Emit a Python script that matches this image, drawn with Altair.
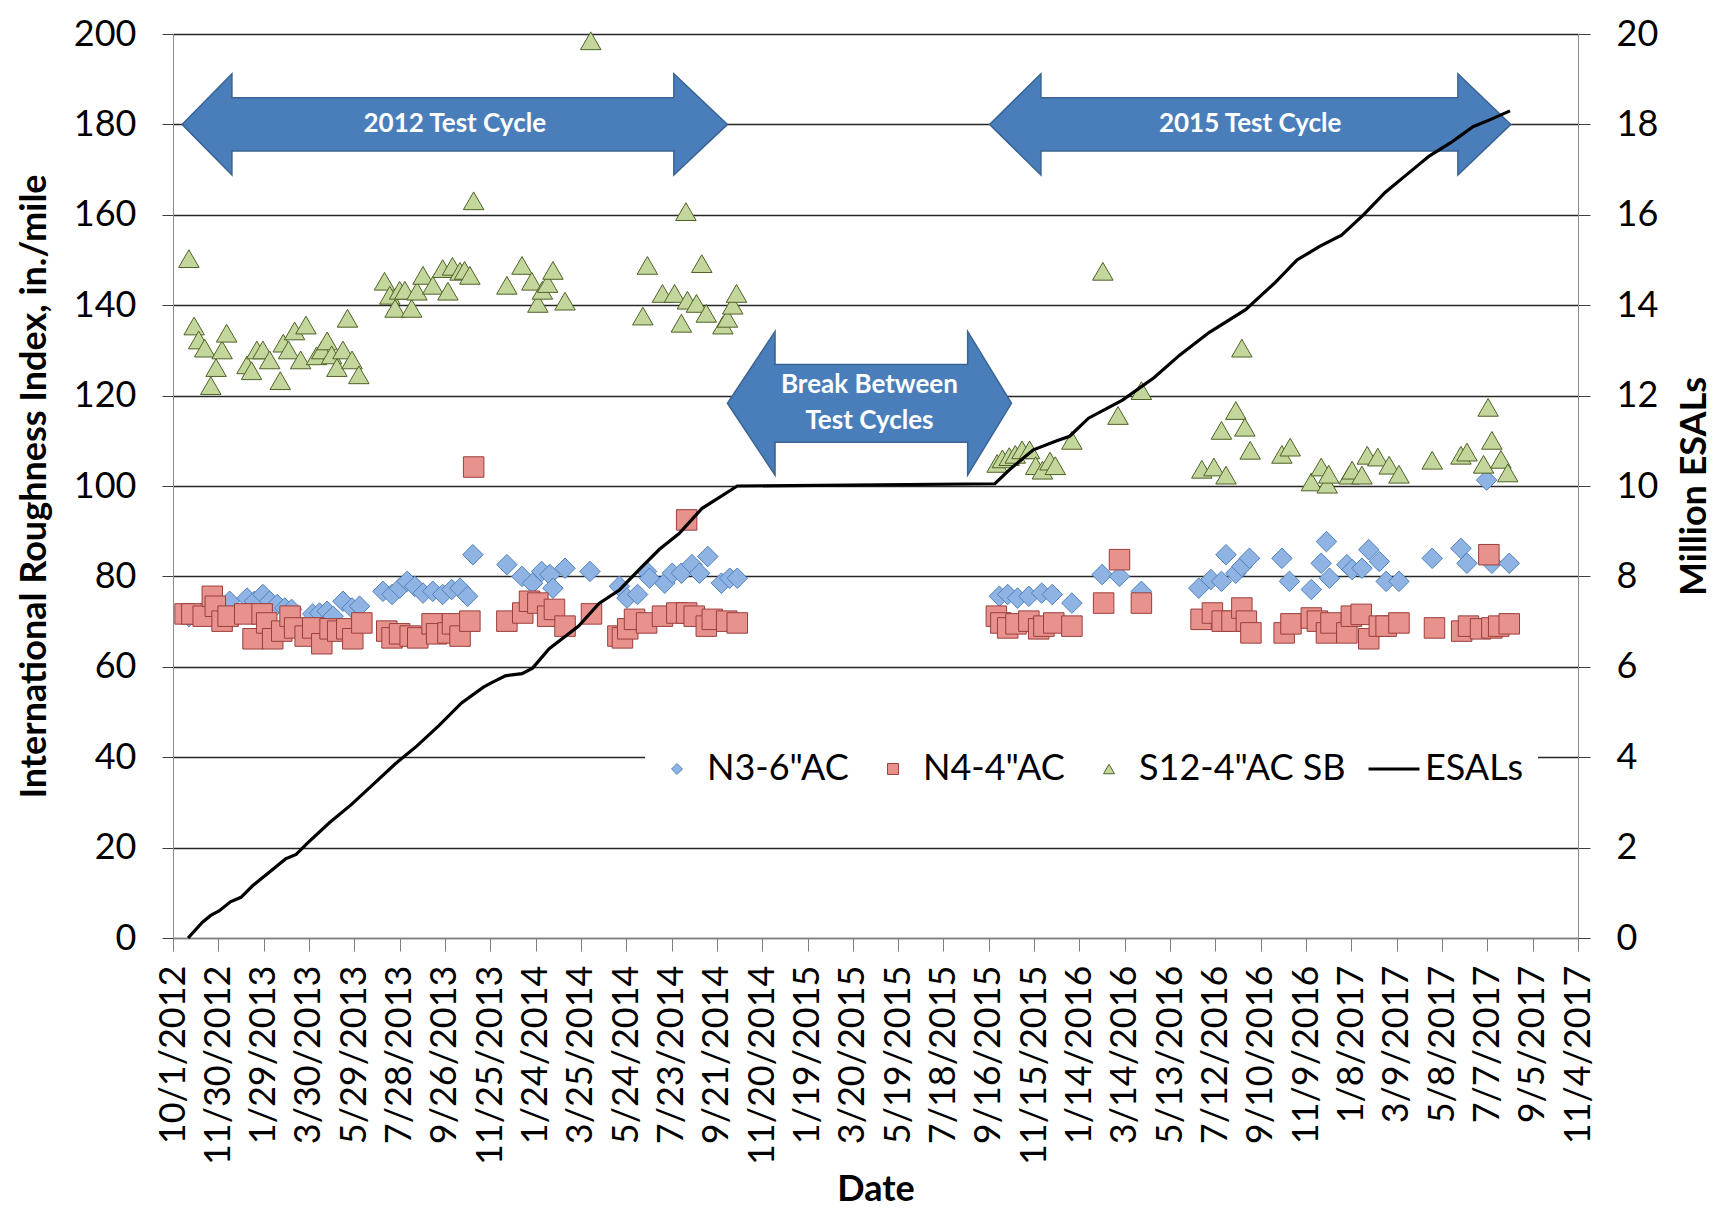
import altair as alt
import pandas as pd

BASE_DATE = "2012-10-01"

# ---- data (x = days after 10/1/2012) ----
n3_day = [21, 75, 98, 108, 119, 128, 138, 148, 157, 185, 194, 204, 212, 225, 237, 247,
          278, 290, 300, 310, 320, 331, 344, 357, 369, 380, 390, 397,
          442, 462, 476, 488, 499, 503, 519, 552, 591, 601, 615, 627, 631, 651, 661,
          673, 687, 697, 708, 726, 737, 747,
          1094, 1105, 1118, 1133, 1150, 1164, 1190, 1230, 1253, 1282,
          1358, 1374, 1388, 1394, 1407, 1415, 1425, 1468, 1478, 1507, 1520, 1527,
          1531, 1554, 1561, 1574, 1583, 1597, 1606, 1623, 1667, 1705, 1713, 1739,
          1746, 1769]
n3_iri = [71.1, 74.5, 75.2, 74.5, 76.0, 74.5, 73.8, 73.0, 72.7, 71.7, 71.9, 72.3, 71.2, 74.5, 73.0, 73.4,
          76.7, 76.0, 77.4, 78.9, 77.8, 76.3, 76.7, 76.0, 77.1, 77.4, 75.6, 84.8,
          82.6, 80.0, 78.5, 81.1, 80.4, 77.4, 81.8, 81.1, 77.8, 75.2, 76.0, 81.1, 79.6, 78.5, 80.7,
          80.7, 82.6, 80.7, 84.4, 78.5, 79.6, 79.6,
          75.6, 76.0, 75.2, 75.6, 76.3, 76.0, 74.1, 80.4, 80.0, 76.7,
          77.4, 79.3, 78.9, 84.8, 80.7, 82.2, 84.0, 84.0, 78.9, 77.1, 82.9, 87.7,
          79.6, 82.6, 81.5, 81.8, 85.9, 83.3, 78.9, 78.9, 84.0, 86.2, 82.9, 101.3,
          82.9, 82.9]

n4_day = [16, 25, 40, 52, 56, 65, 73, 95, 106, 118, 124, 132, 144, 155, 161, 175, 185, 197,
          208, 218, 230, 238, 250, 283, 290, 300, 314, 324, 343, 349, 364, 370, 380, 393, 398,
          442, 463, 472, 483, 496, 505, 519, 554, 589, 595, 602, 611, 627, 648, 667, 680, 680,
          690, 706, 714, 733, 747,
          1090, 1096, 1105, 1116, 1133, 1146, 1153, 1166, 1190, 1232, 1253, 1282,
          1361, 1376, 1389, 1402, 1415, 1421, 1427, 1471, 1480, 1507, 1515, 1527, 1533,
          1554, 1560, 1573, 1583, 1597, 1606, 1623, 1670, 1706, 1715, 1731, 1742, 1746,
          1755, 1769]
n4_iri = [71.7, 71.7, 71.2, 75.6, 73.4, 70.1, 71.2, 71.7, 66.2, 71.7, 69.7, 66.2, 67.9, 71.2, 68.6, 66.8, 68.6, 65.1,
          68.4, 67.9, 68.4, 66.2, 69.7, 67.9, 66.4, 67.3, 66.8, 66.4, 69.5, 67.3, 67.5, 69.5, 66.8, 70.1, 104.2,
          70.1, 71.9, 74.5, 74.1, 71.2, 72.7, 69.0, 71.7, 66.8, 66.4, 68.4, 70.5, 69.7, 71.2, 71.9, 71.9, 92.5,
          71.2, 69.0, 70.5, 70.1, 69.7,
          71.2, 69.7, 68.6, 69.5, 70.1, 68.4, 69.0, 69.7, 69.0, 74.1, 83.7, 74.1,
          70.5, 71.9, 70.1, 70.1, 73.0, 70.1, 67.5, 67.5, 69.5, 70.8, 70.1, 67.5, 69.7,
          67.5, 71.2, 71.6, 66.2, 69.0, 69.0, 69.7, 68.6, 67.9, 69.0, 68.4, 84.8, 68.6,
          69.0, 69.5]

s12_day = [21, 28, 34, 42, 50, 57, 65, 71, 98, 104, 111, 119, 128, 142, 146, 153, 161, 169, 176,
           190, 197, 204, 210, 217, 225, 231, 237, 246,
           280, 287, 294, 300, 307, 316, 323, 331, 344, 357, 364, 370, 380, 386, 393, 398,
           442, 462, 475, 483, 489, 496, 503, 519, 553,
           622, 628, 648, 664, 673, 679, 681, 693, 700, 706, 728, 734, 741, 746,
           1091, 1098, 1107, 1115, 1124, 1134, 1142, 1151, 1161, 1168, 1190, 1231, 1251, 1282,
           1362, 1378, 1388, 1394, 1407, 1415, 1419, 1426, 1468, 1479, 1507, 1520, 1528, 1530,
           1557, 1561, 1574, 1581, 1595, 1610, 1623, 1667, 1705, 1713, 1735, 1741, 1746,
           1758, 1767]
s12_iri = [150.3, 135.4, 132.3, 130.5, 122.2, 126.2, 130.1, 133.8, 126.8, 125.5, 130.1, 130.1, 127.9,
           123.3, 131.6, 130.1, 134.3, 127.9, 135.6,
           128.8, 130.1, 132.1, 129.0, 126.2, 130.1, 137.1, 127.9, 124.6,
           145.3, 142.2, 139.3, 143.3, 143.3, 139.3, 143.1, 146.6, 144.4, 148.1, 143.1, 148.6, 147.5,
           147.7, 146.6, 163.1,
           144.4, 148.8, 145.3, 140.4, 143.3, 144.8, 147.7, 140.9, 198.5,
           137.6, 148.8, 142.6, 142.6, 136.0, 160.7, 141.1, 140.4, 149.2, 138.2, 135.6, 137.1, 140.0, 142.6,
           105.0, 106.0, 106.5, 107.0, 108.0, 108.0, 104.5, 103.5, 105.5, 104.5, 110.1, 147.5, 115.6, 121.1,
           103.7, 104.2, 112.3, 102.4, 116.7, 130.5, 113.0, 107.9, 107.0, 108.6, 100.9, 104.2, 100.4, 102.6,
           102.4, 103.5, 102.4, 106.8, 106.4, 104.6, 102.6, 105.7, 106.8, 107.5, 104.8, 117.4, 110.1,
           105.9, 102.9]

esal_day = [20, 39, 50, 61, 76, 90, 105, 127, 149, 163, 178, 207, 236, 265, 294, 323, 352, 382,
            411, 422, 440, 462, 476, 498, 537, 564, 591, 620, 644, 670, 700, 747,
            1088, 1110, 1139, 1170, 1187, 1212, 1257, 1299, 1333, 1372, 1420, 1459, 1488, 1518,
            1547, 1576, 1605, 1634, 1663, 1692, 1721, 1743, 1770]
esal_million = [0.0, 0.35, 0.5, 0.6, 0.8, 0.9, 1.15, 1.45, 1.75, 1.85, 2.1, 2.55, 2.95, 3.4, 3.85, 4.25,
                4.7, 5.2, 5.55, 5.65, 5.8, 5.85, 5.97, 6.4, 6.9, 7.4, 7.7, 8.2, 8.6, 8.95, 9.5, 10.0,
                10.05, 10.4, 10.8, 11.0, 11.1, 11.5, 11.9, 12.4, 12.9, 13.4, 13.9, 14.5, 15.0, 15.3,
                15.55, 16.0, 16.5, 16.9, 17.3, 17.6, 17.95, 18.1, 18.3]

series_names = ['N3-6"AC', 'N4-4"AC', 'S12-4"AC SB']
line_name = "ESALs"

x_tick_labels = ["10/1/2012", "11/30/2012", "1/29/2013", "3/30/2013", "5/29/2013", "7/28/2013",
                 "9/26/2013", "11/25/2013", "1/24/2014", "3/25/2014", "5/24/2014", "7/23/2014",
                 "9/21/2014", "11/20/2014", "1/19/2015", "3/20/2015", "5/19/2015", "7/18/2015",
                 "9/16/2015", "11/15/2015", "1/14/2016", "3/14/2016", "5/13/2016", "7/12/2016",
                 "9/10/2016", "11/9/2016", "1/8/2017", "3/9/2017", "5/8/2017", "7/7/2017",
                 "9/5/2017", "11/4/2017"]
left_ticks = [0, 20, 40, 60, 80, 100, 120, 140, 160, 180, 200]
right_ticks = [0, 2, 4, 6, 8, 10, 12, 14, 16, 18, 20]

# block-arrow annotations (days after base, IRI units)
arrow_names = ["2012", "break", "2015"]
arrow_tip_left = [12, 734, 1081]
arrow_head_left = [78, 797, 1149]
arrow_head_right = [663, 1052, 1701]
arrow_tip_right = [734, 1110, 1771]
arrow_center = [180, 118.3, 180]
arrow_head_half = [11.2, 15.9, 11.2]
arrow_shaft_half = [5.9, 8.6, 5.9]

note_text = ["2012 Test Cycle", "Break Between", "Test Cycles", "2015 Test Cycle"]
note_day = [373, 922, 922, 1426]
note_iri = [180, 122.3, 114.4, 180]

# ---- build tables ----
base = pd.Timestamp(BASE_DATE)


def to_date(days):
    return base + pd.to_timedelta(pd.Series(days, dtype=float), unit="D")


pts = pd.concat([
    pd.DataFrame({"date": to_date(n3_day), "iri": n3_iri, "series": series_names[0]}),
    pd.DataFrame({"date": to_date(n4_day), "iri": n4_iri, "series": series_names[1]}),
    pd.DataFrame({"date": to_date(s12_day), "iri": s12_iri, "series": series_names[2]}),
], ignore_index=True)

esal = pd.DataFrame({"date": to_date(esal_day), "esal": esal_million, "lname": line_name})

rows = []
eps = 0.02
for i, name in enumerate(arrow_names):
    c, H, S = arrow_center[i], arrow_head_half[i], arrow_shaft_half[i]
    for d, half in [(arrow_tip_left[i], 0), (arrow_head_left[i], H), (arrow_head_left[i] + eps, S),
                    (arrow_head_right[i] - eps, S), (arrow_head_right[i], H), (arrow_tip_right[i], 0)]:
        rows.append({"arrow": name, "day": d, "lo": c - half, "hi": c + half})
arrows = pd.DataFrame(rows)
arrows["date"] = to_date(arrows["day"].tolist())

notes = pd.DataFrame({"date": to_date(note_day), "iri": note_iri, "text": note_text})

# ---- scales / axes ----
def dt(s):
    t = pd.to_datetime(s, format="%m/%d/%Y")
    return alt.DateTime(year=t.year, month=t.month, date=t.day)


x_scale = alt.Scale(domain=[dt(x_tick_labels[0]), dt(x_tick_labels[-1])], nice=False)
x_axis = alt.Axis(values=[dt(s) for s in x_tick_labels], format="%-m/%-d/%Y", title="Date",
                  labelAngle=270, labelAlign="right", labelBaseline="middle",
                  labelOverlap=False, labelFlush=False, labelLimit=400, tickSize=13,
                  labelPadding=14, titlePadding=34, domainColor="#7f7f7f",
                  tickColor="#7f7f7f", grid=False)
X = alt.X("date:T", scale=x_scale, axis=x_axis)

left_scale = alt.Scale(domain=[0, 200], nice=False)
left_axis = alt.Axis(values=left_ticks, title="International Roughness Index, in./mile",
                     grid=True, gridColor="#262626", gridWidth=1.3, tickSize=11,
                     labelPadding=26, titlePadding=20, domainColor="#8c8c8c",
                     tickColor="#404040")

fill_colors = ["#8fb4e3", "#e8928e", "#c3d69b"]
stroke_colors = ["#4f81bd", "#9b3e3b", "#4f6228"]
shapes = ["diamond", "square", "triangle-up"]

pt_legend = alt.Legend(title=None, orient="none", legendX=472, legendY=703,
                       direction="horizontal", fillColor="white", padding=14,
                       symbolSize=120, symbolStrokeWidth=1, labelOffset=12,
                       columnPadding=26, labelFontSize=36, labelFont="Lato",
                       labelColor="black", labelLimit=400)

points = alt.Chart(pts).mark_point(opacity=1, strokeWidth=1, size=420).encode(
    x=X,
    y=alt.Y("iri:Q", scale=left_scale, axis=left_axis),
    fill=alt.Fill("series:N", scale=alt.Scale(domain=series_names, range=fill_colors),
                  legend=pt_legend),
    stroke=alt.Stroke("series:N", scale=alt.Scale(domain=series_names, range=stroke_colors),
                      legend=pt_legend),
    shape=alt.Shape("series:N", scale=alt.Scale(domain=series_names, range=shapes),
                    legend=pt_legend),
)

arrow_layer = alt.Chart(arrows).mark_area(fill="#4a7ebb", stroke="#3a6494", strokeWidth=1.5,
                                          opacity=1).encode(
    x=X,
    y=alt.Y("lo:Q", scale=left_scale, axis=left_axis),
    y2="hi:Q",
    detail="arrow:N",
)

note_layer = alt.Chart(notes).mark_text(font="Lato", fontWeight="bold", fontSize=26,
                                        color="white", align="center",
                                        baseline="middle").encode(
    x=X,
    y=alt.Y("iri:Q", scale=left_scale, axis=left_axis),
    text="text:N",
)

left_group = alt.layer(points, arrow_layer, note_layer)

line = alt.Chart(esal).mark_line(strokeWidth=3.2).encode(
    x=X,
    y=alt.Y("esal:Q", scale=alt.Scale(domain=[0, 20], nice=False),
            axis=alt.Axis(orient="right", values=right_ticks, title="Million ESALs",
                          titleAngle=270, titleBaseline="top", grid=False, tickSize=12,
                          labelPadding=26, titlePadding=20, domainColor="#8c8c8c",
                          tickColor="#404040")),
    color=alt.Color("lname:N", scale=alt.Scale(domain=[line_name], range=["black"]),
                    legend=alt.Legend(title=None, orient="none", legendX=1180, legendY=694,
                                      fillColor="white", padding=14, symbolType="stroke",
                                      symbolSize=2600, symbolStrokeWidth=3, labelOffset=4,
                                      labelFontSize=36, labelFont="Lato", labelColor="black")),
)

chart = alt.layer(left_group, line).resolve_scale(y="independent").properties(
    width=1405, height=904,
    padding={"left": 8, "top": 8, "right": 4, "bottom": 2},
).configure_axis(
    labelFont="Lato", titleFont="Lato", labelFontSize=36, titleFontSize=36,
    titleFontWeight="bold", labelColor="black", titleColor="black",
).configure_view(stroke=None)

chart.save("out.html", embed_options={"renderer": "svg", "actions": False})
